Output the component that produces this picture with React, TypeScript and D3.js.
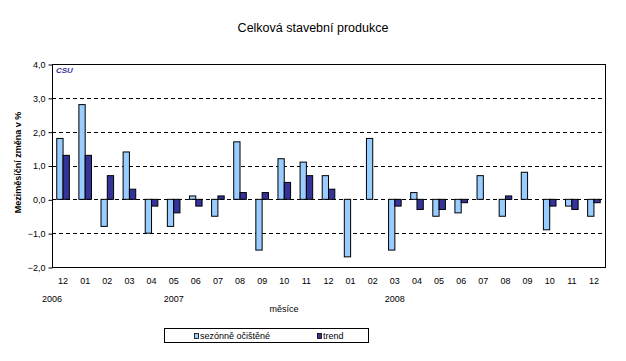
import React, { useEffect, useRef } from 'react';
import * as d3 from 'd3';

// months Dec 2006 .. Dec 2008
const months = ["12", "01", "02", "03", "04", "05", "06", "07", "08", "09", "10", "11", "12",
  "01", "02", "03", "04", "05", "06", "07", "08", "09", "10", "11", "12"];
const seasonal = [1.8, 2.8, -0.8, 1.4, -1.0, -0.8, 0.1, -0.5, 1.7, -1.5, 1.2, 1.1, 0.7,
  -1.7, 1.8, -1.5, 0.2, -0.5, -0.4, 0.7, -0.5, 0.8, -0.9, -0.2, -0.5];
const trend = [1.3, 1.3, 0.7, 0.3, -0.2, -0.4, -0.2, 0.1, 0.2, 0.2, 0.5, 0.7, 0.3,
  0, 0, -0.2, -0.3, -0.3, -0.1, 0, 0.1, 0, -0.2, -0.3, -0.1];
const yTicks = [-2, -1, 0, 1, 2, 3, 4];
// year label -> category index it sits under
const years = [
  { label: "2006", at: 0, edge: true },
  { label: "2007", at: 5, edge: false },
  { label: "2008", at: 15, edge: false },
];
const seriesNames = ["sezónně očištěné", "trend"];
const colors = ["#99CCFF", "#333399"];

export default function App() {
  const svgRef = useRef<SVGSVGElement | null>(null);

  useEffect(() => {
    if (!svgRef.current) return;
    const svg = d3.select(svgRef.current);
    svg.selectAll("*").remove();

    const left = 52, right = 605, top = 64, bottom = 267;
    const font = "'Liberation Sans', Arial, sans-serif";

    const keys = months.map((m, i) => `${i}`);
    const x = d3.scaleBand<string>().domain(keys).range([left, right])
      .paddingInner(0.43).paddingOuter(0.215);
    const xs = d3.scaleBand<number>().domain([0, 1]).range([0, x.bandwidth()]);
    const y = d3.scaleLinear().domain([-2, 4]).range([bottom, top]);

    svg.append("text")
      .attr("x", 313).attr("y", 32)
      .attr("text-anchor", "middle")
      .attr("font-family", font).attr("font-size", 12.5)
      .text("Celková stavební produkce");

    // gridlines
    svg.append("g").selectAll("line")
      .data(yTicks.filter(t => t > -2 && t < 4))
      .join("line")
      .attr("x1", left).attr("x2", right)
      .attr("y1", d => Math.round(y(d)) + 0.5).attr("y2", d => Math.round(y(d)) + 0.5)
      .attr("stroke", "#000").attr("stroke-dasharray", "4,3");

    // bars
    const data = [seasonal, trend];
    data.forEach((vals, s) => {
      const pts = vals.map((v, i) => ({ v, key: keys[i] })).filter(p => p.v !== 0);
      svg.append("g").selectAll("rect")
        .data(pts)
        .join("rect")
        .attr("x", d => x(d.key)! + xs(s)!)
        .attr("width", xs.bandwidth())
        .attr("y", d => y(Math.max(0, d.v)))
        .attr("height", d => Math.abs(y(d.v) - y(0)))
        .attr("fill", colors[s])
        .attr("stroke", "#000").attr("stroke-width", 1);
    });

    // plot frame
    svg.append("rect")
      .attr("x", left + 0.5).attr("y", top + 0.5)
      .attr("width", right - left).attr("height", bottom - top)
      .attr("fill", "none").attr("stroke", "#000");

    // y axis
    const yAxis = d3.axisLeft(y).tickValues(yTicks).tickSize(4)
      .tickFormat(d => d3.format(".1f")(d as number).replace(".", ","));
    const ya = svg.append("g")
      .attr("transform", `translate(${left + 0.5},0.5)`)
      .call(yAxis);
    ya.select(".domain").remove();
    ya.selectAll("text").attr("font-family", font).attr("font-size", 9).attr("fill", "#000");

    svg.append("text")
      .attr("transform", `translate(21,${(top + bottom) / 2 - 3}) rotate(-90)`)
      .attr("text-anchor", "middle")
      .attr("font-family", font).attr("font-size", 9).attr("font-weight", "bold")
      .text("Meziměsíční změna v %");

    // CSU mark
    svg.append("text")
      .attr("x", 56).attr("y", 73)
      .attr("font-family", font).attr("font-size", 8).attr("font-weight", "bold")
      .attr("font-style", "italic").attr("fill", "#333399")
      .text("CSU");

    // x labels
    svg.append("g").selectAll("text")
      .data(months)
      .join("text")
      .attr("x", (d, i) => x(keys[i])! + x.bandwidth() / 2)
      .attr("y", 284)
      .attr("text-anchor", "middle")
      .attr("font-family", font).attr("font-size", 9)
      .text(d => d);

    svg.append("g").selectAll("text")
      .data(years)
      .join("text")
      .attr("x", d => d.edge ? left : x(keys[d.at])! + x.bandwidth() / 2)
      .attr("y", 302)
      .attr("text-anchor", "middle")
      .attr("font-family", font).attr("font-size", 9)
      .text(d => d.label);

    svg.append("text")
      .attr("x", 284).attr("y", 312)
      .attr("text-anchor", "middle")
      .attr("font-family", font).attr("font-size", 9)
      .text("měsíce");

    // legend
    svg.append("rect")
      .attr("x", 164.5).attr("y", 328.5).attr("width", 204).attr("height", 14)
      .attr("fill", "#fff").attr("stroke", "#000");
    const legX = [194, 317];
    seriesNames.forEach((name, i) => {
      svg.append("rect")
        .attr("x", legX[i] + 0.5).attr("y", 333.5).attr("width", 4).attr("height", 5)
        .attr("fill", colors[i]).attr("stroke", "#000").attr("stroke-width", 0.8);
      svg.append("text")
        .attr("x", legX[i] + 6).attr("y", 339)
        .attr("font-family", font).attr("font-size", 9)
        .text(name);
    });
  }, []);

  return (
    <svg ref={svgRef} width={626} height={361}
      style={{ position: "absolute", left: 0, top: 0, background: "#fff" }} />
  );
}
